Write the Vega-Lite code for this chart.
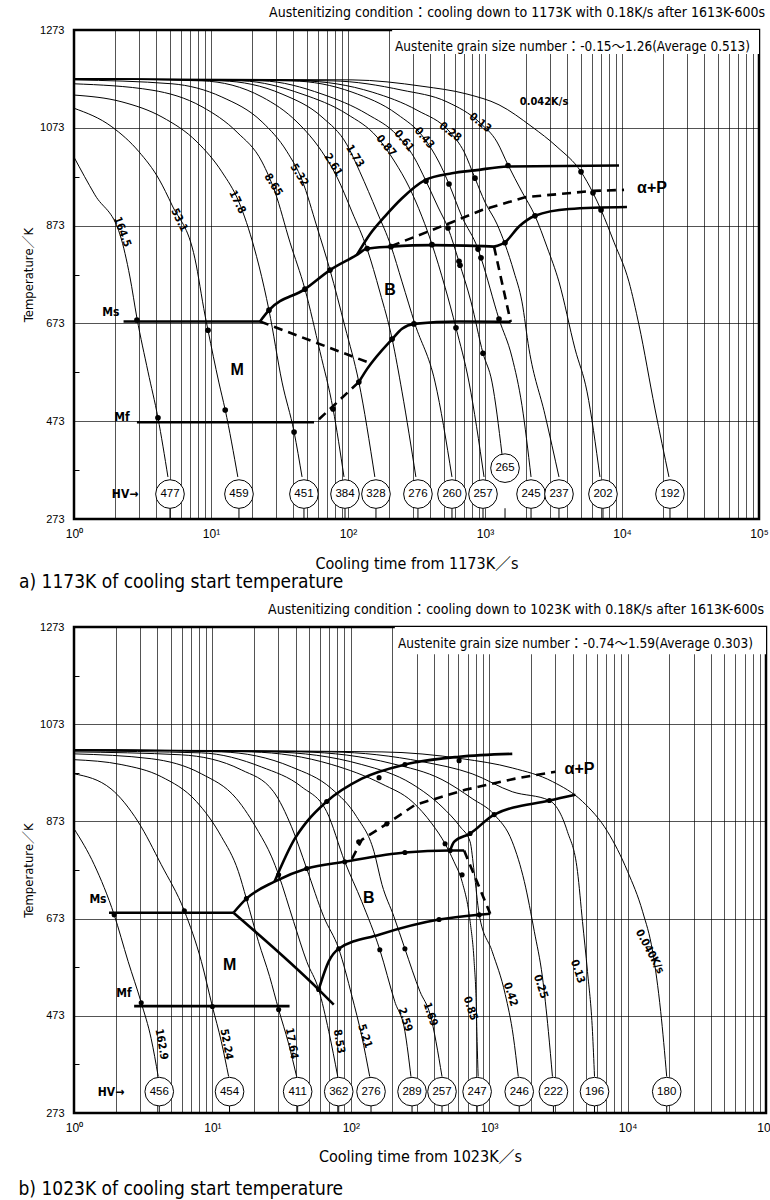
{
"$schema": "https://vega.github.io/schema/vega-lite/v6.json",
"padding": {"left": 17, "top": 4, "right": 0, "bottom": 0},
"background": "white",
"bounds": "flush",
"spacing": 108,
"config": {
  "view": {"stroke": "#000", "strokeWidth": 2.5},
  "font": "DejaVu Sans Condensed, Liberation Sans Narrow, Noto Sans CJK JP, sans-serif",
  "axis": {"domain": false, "labelColor": "#000", "titleColor": "#000", "tickColor": "#000", "gridColor": "#000", "titleFontWeight": "normal", "labelFont": "Liberation Sans, Arial, sans-serif", "titleFont": "DejaVu Sans Condensed, Noto Sans CJK JP, sans-serif"},
  "title": {"font": "DejaVu Sans Condensed, Noto Sans CJK JP, sans-serif", "fontWeight": "normal", "color": "#000", "fontSize": 14, "anchor": "end", "frame": "group"},
  "text": {"color": "#000"}
},
"datasets": {
  "curvesA": [
    {"c":"164.5","t":1,"T":1013},{"c":"164.5","t":1.42,"T":936},{"c":"164.5","t":2.17,"T":854},{"c":"164.5","t":2.56,"T":768},{"c":"164.5","t":2.88,"T":684},{"c":"164.5","t":3.47,"T":574},{"c":"164.5","t":4.1,"T":480},{"c":"164.5","t":4.85,"T":359},
    {"c":"53.1","t":1,"T":1113},{"c":"53.1","t":1.89,"T":1075},{"c":"53.1","t":2.98,"T":1024},{"c":"53.1","t":4.17,"T":968},{"c":"53.1","t":5.19,"T":915},{"c":"53.1","t":7.64,"T":805},{"c":"53.1","t":9.04,"T":690},{"c":"53.1","t":9.51,"T":659},{"c":"53.1","t":11.4,"T":553},{"c":"53.1","t":12.7,"T":496},{"c":"53.1","t":15.7,"T":359},
    {"c":"17.8","t":1,"T":1140},{"c":"17.8","t":2.24,"T":1126},{"c":"17.8","t":4.39,"T":1095},{"c":"17.8","t":7.91,"T":1044},{"c":"17.8","t":12,"T":983},{"c":"17.8","t":16,"T":921},{"c":"17.8","t":20.6,"T":829},{"c":"17.8","t":24.4,"T":747},{"c":"17.8","t":26.5,"T":700},{"c":"17.8","t":33,"T":553},{"c":"17.8","t":40.4,"T":451},{"c":"17.8","t":46.2,"T":359},
    {"c":"8.65","t":1,"T":1163},{"c":"8.65","t":3.71,"T":1150},{"c":"8.65","t":8.6,"T":1116},{"c":"8.65","t":15.5,"T":1064},{"c":"8.65","t":23.6,"T":1003},{"c":"8.65","t":29.3,"T":942},{"c":"8.65","t":37.7,"T":839},{"c":"8.65","t":48.5,"T":743},{"c":"8.65","t":62.5,"T":615},{"c":"8.65","t":77.8,"T":498},{"c":"8.65","t":93.5,"T":359},
    {"c":"5.32","t":1,"T":1171},{"c":"5.32","t":5.19,"T":1163},{"c":"5.32","t":12,"T":1136},{"c":"5.32","t":23.6,"T":1085},{"c":"5.32","t":35.9,"T":1024},{"c":"5.32","t":46.2,"T":966},{"c":"5.32","t":59.4,"T":870},{"c":"5.32","t":73.9,"T":782},{"c":"5.32","t":95.1,"T":666},{"c":"5.32","t":120,"T":553},{"c":"5.32","t":157,"T":359},
    {"c":"2.61","t":1,"T":1173},{"c":"2.61","t":8.6,"T":1169},{"c":"2.61","t":23.6,"T":1136},{"c":"2.61","t":42.4,"T":1085},{"c":"2.61","t":64.6,"T":1024},{"c":"2.61","t":83.2,"T":972},{"c":"2.61","t":107,"T":901},{"c":"2.61","t":138,"T":825},{"c":"2.61","t":171,"T":737},{"c":"2.61","t":210,"T":641},{"c":"2.61","t":248,"T":533},{"c":"2.61","t":313,"T":359},
    {"c":"1.73","t":1,"T":1173},{"c":"1.73","t":12,"T":1169},{"c":"1.73","t":33,"T":1142},{"c":"1.73","t":64.6,"T":1095},{"c":"1.73","t":98.4,"T":1038},{"c":"1.73","t":122,"T":983},{"c":"1.73","t":163,"T":901},{"c":"1.73","t":206,"T":831},{"c":"1.73","t":248,"T":758},{"c":"1.73","t":308,"T":672},{"c":"1.73","t":432,"T":553},{"c":"1.73","t":574,"T":359},
    {"c":"0.87","t":1,"T":1173},{"c":"0.87","t":16.8,"T":1169},{"c":"0.87","t":46.2,"T":1142},{"c":"0.87","t":98.4,"T":1101},{"c":"0.87","t":163,"T":1054},{"c":"0.87","t":220,"T":1003},{"c":"0.87","t":279,"T":952},{"c":"0.87","t":347,"T":891},{"c":"0.87","t":410,"T":835},{"c":"0.87","t":511,"T":747},{"c":"0.87","t":614,"T":664},{"c":"0.87","t":764,"T":553},{"c":"0.87","t":984,"T":359},
    {"c":"0.61","t":1,"T":1173},{"c":"0.61","t":23.6,"T":1169},{"c":"0.61","t":64.6,"T":1142},{"c":"0.61","t":138,"T":1101},{"c":"0.61","t":228,"T":1058},{"c":"0.61","t":303,"T":1013},{"c":"0.61","t":371,"T":964},{"c":"0.61","t":454,"T":911},{"c":"0.61","t":537,"T":868},{"c":"0.61","t":646,"T":799},{"c":"0.61","t":791,"T":717},{"c":"0.61","t":967,"T":612},{"c":"0.61","t":1125,"T":553},{"c":"0.61","t":1330,"T":406},
    {"c":"0.43","t":1,"T":1173},{"c":"0.43","t":39,"T":1169},{"c":"0.43","t":107,"T":1146},{"c":"0.43","t":228,"T":1101},{"c":"0.43","t":359,"T":1052},{"c":"0.43","t":461,"T":1003},{"c":"0.43","t":546,"T":958},{"c":"0.43","t":679,"T":891},{"c":"0.43","t":889,"T":825},{"c":"0.43","t":935,"T":807},{"c":"0.43","t":1265,"T":682},{"c":"0.43","t":1574,"T":604},{"c":"0.43","t":1862,"T":505},{"c":"0.43","t":2168,"T":359},
    {"c":"0.28","t":1,"T":1173},{"c":"0.28","t":46.2,"T":1169},{"c":"0.28","t":150,"T":1146},{"c":"0.28","t":319,"T":1109},{"c":"0.28","t":556,"T":1064},{"c":"0.28","t":703,"T":1024},{"c":"0.28","t":845,"T":970},{"c":"0.28","t":1000,"T":921},{"c":"0.28","t":1224,"T":876},{"c":"0.28","t":1400,"T":835},{"c":"0.28","t":1629,"T":778},{"c":"0.28","t":1862,"T":717},{"c":"0.28","t":2094,"T":621},{"c":"0.28","t":2742,"T":486},{"c":"0.28","t":3467,"T":359},
    {"c":"0.13","t":1,"T":1173},{"c":"0.13","t":76.4,"T":1169},{"c":"0.13","t":248,"T":1150},{"c":"0.13","t":528,"T":1126},{"c":"0.13","t":920,"T":1083},{"c":"0.13","t":1224,"T":1044},{"c":"0.13","t":1472,"T":997},{"c":"0.13","t":1862,"T":942},{"c":"0.13","t":2317,"T":893},{"c":"0.13","t":2838,"T":829},{"c":"0.13","t":3467,"T":758},{"c":"0.13","t":4539,"T":621},{"c":"0.13","t":5559,"T":533},{"c":"0.13","t":6905,"T":359},
    {"c":"0.042","t":1,"T":1173},{"c":"0.042","t":107,"T":1171},{"c":"0.042","t":347,"T":1158},{"c":"0.042","t":739,"T":1142},{"c":"0.042","t":1265,"T":1120},{"c":"0.042","t":2203,"T":1075},{"c":"0.042","t":3357,"T":1034},{"c":"0.042","t":5023,"T":983},{"c":"0.042","t":6141,"T":940},{"c":"0.042","t":7031,"T":905},{"c":"0.042","t":8745,"T":839},{"c":"0.042","t":11240,"T":758},{"c":"0.042","t":13300,"T":670},{"c":"0.042","t":17410,"T":498},{"c":"0.042","t":22020,"T":359}
  ],
  "solidA": [
    {"s":"Ms","t":2.3,"T":677},{"s":"Ms","t":22.8,"T":677},
    {"s":"Bs","t":22.8,"T":677},{"s":"Bs","t":26.5,"T":700},{"s":"Bs","t":48.5,"T":743},{"s":"Bs","t":73.9,"T":782},{"s":"Bs","t":116,"T":813},{"s":"Bs","t":138,"T":826},{"s":"Bs","t":206,"T":830},{"s":"Bs","t":410,"T":833},{"s":"Bs","t":1164,"T":830},
    {"s":"Pf","t":1164,"T":830},{"s":"Pf","t":1400,"T":839},{"s":"Pf","t":1771,"T":871},{"s":"Pf","t":2317,"T":893},{"s":"Pf","t":4102,"T":907},{"s":"Pf","t":10870,"T":911},
    {"s":"As","t":116,"T":813},{"s":"As","t":145,"T":856},{"s":"As","t":186,"T":892},{"s":"As","t":248,"T":929},{"s":"As","t":365,"T":966},{"s":"As","t":574,"T":980},{"s":"As","t":845,"T":986},{"s":"As","t":1472,"T":994},{"s":"As","t":9509,"T":996},
    {"s":"Bf","t":120,"T":553},{"s":"Bf","t":138,"T":580},{"s":"Bf","t":210,"T":641},{"s":"Bf","t":248,"T":662},{"s":"Bf","t":303,"T":672},{"s":"Bf","t":646,"T":677},{"s":"Bf","t":1540,"T":676},
    {"s":"Mf","t":2.88,"T":471},{"s":"Mf","t":56.5,"T":471}
  ],
  "dashA": [
    {"s":"Ps","t":206,"T":831},{"s":"Ps","t":574,"T":880},{"s":"Ps","t":951,"T":905},{"s":"Ps","t":1959,"T":931},{"s":"Ps","t":6141,"T":944},{"s":"Ps","t":10350,"T":946},
    {"s":"MB","t":22.8,"T":677},{"s":"MB","t":138,"T":594},
    {"s":"Bfd","t":61.4,"T":477},{"s":"Bfd","t":120,"T":553},
    {"s":"Vd","t":1164,"T":830},{"s":"Vd","t":1540,"T":676}
  ],
  "dotsA": [
    {"t":2.88,"T":680},{"t":9.51,"T":659},{"t":26.5,"T":700},{"t":48.5,"T":743},{"t":73.9,"T":782},{"t":138,"T":826},{"t":206,"T":830},{"t":410,"T":834},{"t":371,"T":964},{"t":546,"T":958},{"t":845,"T":970},{"t":1472,"T":996},{"t":5023,"T":983},{"t":6141,"T":940},{"t":7031,"T":905},{"t":2317,"T":893},{"t":1400,"T":838},{"t":537,"T":868},{"t":889,"T":825},{"t":935,"T":807},{"t":646,"T":800},{"t":657,"T":792},{"t":1265,"T":682},{"t":614,"T":664},{"t":303,"T":672},{"t":210,"T":641},{"t":120,"T":553},{"t":77.8,"T":498},{"t":40.4,"T":451},{"t":12.7,"T":496},{"t":4.1,"T":480},{"t":967,"T":612}
  ],
  "hvA": [
    {"hv":"477","t":5.02,"T":324},{"hv":"459","t":16,"T":324},{"hv":"451","t":47.7,"T":324},{"hv":"384","t":95.1,"T":324},{"hv":"328","t":160,"T":324},{"hv":"276","t":324,"T":324},{"hv":"260","t":574,"T":324},{"hv":"257","t":967,"T":324},{"hv":"265","t":1400,"T":377},{"hv":"245","t":2168,"T":324},{"hv":"237","t":3467,"T":324},{"hv":"202","t":7263,"T":324},{"hv":"192","t":22400,"T":324}
  ],
  "rateA": [
    {"c":"164.5","t":2.24,"T":860},{"c":"53.1","t":5.84,"T":884},{"c":"17.8","t":15.5,"T":921},{"c":"8.65","t":28.4,"T":956},{"c":"5.32","t":43.9,"T":976},{"c":"2.61","t":77.8,"T":997},{"c":"1.73","t":112,"T":1015},{"c":"0.87","t":189,"T":1036},{"c":"0.61","t":256,"T":1046},{"c":"0.43","t":359,"T":1052},{"c":"0.28","t":556,"T":1064},{"c":"0.13","t":920,"T":1083},{"c":"0.042K/s","t":2697,"T":1126}
  ],
  "regionA": [{"label":"M","t":15.5,"T":578},{"label":"B","t":203,"T":741},{"label":"α+P","t":16560,"T":950}],
  "markA": [{"label":"Ms","t":1.86,"T":697},{"label":"Mf","t":2.24,"T":482},{"label":"HV→","t":2.36,"T":324}],
  "noteA": [{"label":"Austenite grain size number：-0.15～1.26(Average 0.513)","t":86000,"T":1238}],
  "boxA": [{"t":210,"t2":100000,"T":1224,"T2":1273}],
  "capA": [{"label":"a) 1173K of cooling start temperature","t":0.397,"T":144}],

  "curvesB": [
    {"c":"162.9","t":1,"T":858},{"c":"162.9","t":1.4,"T":784},{"c":"162.9","t":1.95,"T":681},{"c":"162.9","t":2.46,"T":585},{"c":"162.9","t":3.06,"T":500},{"c":"162.9","t":3.61,"T":426},{"c":"162.9","t":4.06,"T":348},
    {"c":"52.24","t":1,"T":971},{"c":"52.24","t":1.85,"T":940},{"c":"52.24","t":2.91,"T":872},{"c":"52.24","t":4.27,"T":784},{"c":"52.24","t":6.27,"T":689},{"c":"52.24","t":8.32,"T":585},{"c":"52.24","t":10,"T":492},{"c":"52.24","t":11.6,"T":420},{"c":"52.24","t":13.1,"T":348},
    {"c":"17.64","t":1,"T":1000},{"c":"17.64","t":2.19,"T":990},{"c":"17.64","t":4.27,"T":965},{"c":"17.64","t":7.66,"T":914},{"c":"17.64","t":11.6,"T":842},{"c":"17.64","t":15.4,"T":770},{"c":"17.64","t":17.6,"T":714},{"c":"17.64","t":21.5,"T":626},{"c":"17.64","t":25.9,"T":554},{"c":"17.64","t":30.1,"T":486},{"c":"17.64","t":35.5,"T":416},{"c":"17.64","t":40.6,"T":348},
    {"c":"8.53","t":1,"T":1012},{"c":"8.53","t":3.61,"T":1002},{"c":"8.53","t":8.32,"T":971},{"c":"8.53","t":14.9,"T":920},{"c":"8.53","t":21.5,"T":852},{"c":"8.53","t":26.8,"T":800},{"c":"8.53","t":30.1,"T":763},{"c":"8.53","t":38.6,"T":667},{"c":"8.53","t":48,"T":585},{"c":"8.53","t":58.6,"T":527},{"c":"8.53","t":69.3,"T":441},{"c":"8.53","t":80.5,"T":348},
    {"c":"5.21","t":1,"T":1016},{"c":"5.21","t":5.96,"T":1010},{"c":"5.21","t":16.2,"T":979},{"c":"5.21","t":27.7,"T":934},{"c":"5.21","t":37.3,"T":862},{"c":"5.21","t":48,"T":776},{"c":"5.21","t":63.7,"T":677},{"c":"5.21","t":81.8,"T":611},{"c":"5.21","t":102,"T":513},{"c":"5.21","t":120,"T":431},{"c":"5.21","t":137,"T":348},
    {"c":"2.59","t":1,"T":1018},{"c":"2.59","t":8.32,"T":1014},{"c":"2.59","t":22.6,"T":985},{"c":"2.59","t":44.2,"T":944},{"c":"2.59","t":67,"T":893},{"c":"2.59","t":90.5,"T":790},{"c":"2.59","t":120,"T":708},{"c":"2.59","t":162,"T":609},{"c":"2.59","t":208,"T":502},{"c":"2.59","t":246,"T":441},{"c":"2.59","t":272,"T":348},
    {"c":"1.69","t":1,"T":1020},{"c":"1.69","t":11.6,"T":1016},{"c":"1.69","t":37.3,"T":985},{"c":"1.69","t":72.8,"T":940},{"c":"1.69","t":110,"T":883},{"c":"1.69","t":147,"T":811},{"c":"1.69","t":168,"T":743},{"c":"1.69","t":205,"T":677},{"c":"1.69","t":246,"T":611},{"c":"1.69","t":316,"T":523},{"c":"1.69","t":374,"T":476},{"c":"1.69","t":456,"T":348},
    {"c":"0.85","t":1,"T":1020},{"c":"0.85","t":19.2,"T":1016},{"c":"0.85","t":72.8,"T":990},{"c":"0.85","t":168,"T":950},{"c":"0.85","t":277,"T":914},{"c":"0.85","t":386,"T":868},{"c":"0.85","t":480,"T":827},{"c":"0.85","t":557,"T":790},{"c":"0.85","t":637,"T":749},{"c":"0.85","t":728,"T":667},{"c":"0.85","t":778,"T":585},{"c":"0.85","t":805,"T":502},{"c":"0.85","t":818,"T":420},{"c":"0.85","t":832,"T":348},
    {"c":"0.42","t":1,"T":1020},{"c":"0.42","t":26.8,"T":1016},{"c":"0.42","t":120,"T":990},{"c":"0.42","t":277,"T":950},{"c":"0.42","t":456,"T":903},{"c":"0.42","t":617,"T":862},{"c":"0.42","t":728,"T":831},{"c":"0.42","t":778,"T":770},{"c":"0.42","t":847,"T":681},{"c":"0.42","t":1052,"T":605},{"c":"0.42","t":1306,"T":517},{"c":"0.42","t":1493,"T":431},{"c":"0.42","t":1622,"T":348},
    {"c":"0.25","t":1,"T":1020},{"c":"0.25","t":44.2,"T":1016},{"c":"0.25","t":198,"T":992},{"c":"0.25","t":456,"T":959},{"c":"0.25","t":753,"T":920},{"c":"0.25","t":1087,"T":887},{"c":"0.25","t":1468,"T":831},{"c":"0.25","t":1795,"T":749},{"c":"0.25","t":2120,"T":646},{"c":"0.25","t":2421,"T":554},{"c":"0.25","t":2677,"T":441},{"c":"0.25","t":2864,"T":348},
    {"c":"0.13","t":1,"T":1020},{"c":"0.13","t":72.8,"T":1016},{"c":"0.13","t":327,"T":996},{"c":"0.13","t":753,"T":971},{"c":"0.13","t":1468,"T":934},{"c":"0.13","t":2723,"T":916},{"c":"0.13","t":3675,"T":852},{"c":"0.13","t":4345,"T":770},{"c":"0.13","t":4722,"T":667},{"c":"0.13","t":5131,"T":564},{"c":"0.13","t":5574,"T":441},{"c":"0.13","t":5766,"T":348},
    {"c":"0.040","t":1,"T":1020},{"c":"0.040","t":168,"T":1016},{"c":"0.040","t":637,"T":1002},{"c":"0.040","t":1468,"T":983},{"c":"0.040","t":2864,"T":955},{"c":"0.040","t":4722,"T":914},{"c":"0.040","t":7161,"T":852},{"c":"0.040","t":10000,"T":770},{"c":"0.040","t":12850,"T":687},{"c":"0.040","t":15170,"T":605},{"c":"0.040","t":17340,"T":482},{"c":"0.040","t":19170,"T":348}
  ],
  "solidB": [
    {"s":"Ms","t":1.79,"T":685},{"s":"Ms","t":14.2,"T":685},
    {"s":"Bs","t":14.2,"T":685},{"s":"Bs","t":17.6,"T":714},{"s":"Bs","t":28.1,"T":749},{"s":"Bs","t":48,"T":776},{"s":"Bs","t":90.5,"T":790},{"s":"Bs","t":246,"T":809},{"s":"Bs","t":522,"T":813},{"s":"Bs","t":659,"T":813},
    {"s":"As","t":28.1,"T":749},{"s":"As","t":39.3,"T":837},{"s":"As","t":48,"T":872},{"s":"As","t":67,"T":914},{"s":"As","t":120,"T":961},{"s":"As","t":246,"T":990},{"s":"As","t":606,"T":1006},{"s":"As","t":1468,"T":1012},
    {"s":"Pf","t":522,"T":813},{"s":"Pf","t":557,"T":831},{"s":"Pf","t":728,"T":848},{"s":"Pf","t":1087,"T":887},{"s":"Pf","t":2723,"T":916},{"s":"Pf","t":4199,"T":928},
    {"s":"MB","t":14.2,"T":685},{"s":"MB","t":58.6,"T":527},{"s":"MB","t":75.3,"T":496},
    {"s":"Bf","t":58.6,"T":527},{"s":"Bf","t":69.3,"T":585},{"s":"Bf","t":81.8,"T":611},{"s":"Bf","t":160,"T":640},{"s":"Bf","t":434,"T":671},{"s":"Bf","t":847,"T":681},{"s":"Bf","t":1017,"T":683},
    {"s":"Mf","t":2.72,"T":493},{"s":"Mf","t":36.1,"T":493}
  ],
  "dashB": [
    {"s":"Ps","t":102,"T":796},{"s":"Ps","t":120,"T":835},{"s":"Ps","t":182,"T":868},{"s":"Ps","t":291,"T":907},{"s":"Ps","t":670,"T":938},{"s":"Ps","t":1542,"T":961},{"s":"Ps","t":3009,"T":975},
    {"s":"Vd","t":659,"T":813},{"s":"Vd","t":1017,"T":683}
  ],
  "dotsB": [
    {"t":1.95,"T":681},{"t":6.27,"T":689},{"t":3.06,"T":500},{"t":10,"T":492},{"t":30.1,"T":486},{"t":17.6,"T":714},{"t":30.1,"T":763},{"t":48,"T":776},{"t":90.5,"T":790},{"t":246,"T":809},{"t":522,"T":813},{"t":67,"T":914},{"t":160,"T":963},{"t":246,"T":990},{"t":606,"T":998},{"t":114,"T":831},{"t":182,"T":868},{"t":480,"T":827},{"t":637,"T":763},{"t":728,"T":848},{"t":1087,"T":887},{"t":2723,"T":916},{"t":58.6,"T":527},{"t":81.8,"T":611},{"t":162,"T":609},{"t":246,"T":611},{"t":434,"T":671},{"t":847,"T":681}
  ],
  "hvB": [
    {"hv":"456","t":4.13,"T":317},{"hv":"454","t":13.3,"T":317},{"hv":"411","t":41.3,"T":317},{"hv":"362","t":81.8,"T":317},{"hv":"276","t":140,"T":317},{"hv":"289","t":277,"T":317},{"hv":"257","t":456,"T":317},{"hv":"247","t":818,"T":317},{"hv":"246","t":1648,"T":317},{"hv":"222","t":2911,"T":317},{"hv":"196","t":5766,"T":317},{"hv":"180","t":19170,"T":317}
  ],
  "rateB": [
    {"c":"162.9","t":4.27,"T":414},{"c":"52.24","t":12.6,"T":414},{"c":"17.64","t":37.3,"T":416},{"c":"8.53","t":81.8,"T":420},{"c":"5.21","t":126,"T":431},{"c":"2.59","t":246,"T":465},{"c":"1.69","t":374,"T":476},{"c":"0.85","t":728,"T":488},{"c":"0.42","t":1419,"T":517},{"c":"0.25","t":2343,"T":533},{"c":"0.13","t":4345,"T":564},{"c":"0.040K/s","t":14420,"T":605}
  ],
  "regionB": [{"label":"M","t":13.3,"T":578},{"label":"B","t":135,"T":716},{"label":"α+P","t":4491,"T":981}],
  "markB": [{"label":"Ms","t":1.49,"T":714},{"label":"Mf","t":2.3,"T":519},{"label":"HV→","t":1.85,"T":317}],
  "noteB": [{"label":"Austenite grain size number：-0.74～1.59(Average 0.303)","t":80500,"T":1238}],
  "boxB": [{"t":208,"t2":100000,"T":1217,"T2":1273}],
  "capB": [{"label":"b) 1023K of cooling start temperature","t":0.397,"T":117}]
},
"vconcat": [
  {
    "width": 685, "height": 489,
    "title": {"text": "Austenitizing condition：cooling down to 1173K with 0.18K/s after 1613K-600s", "dx": 6, "offset": 4},
    "encoding": {
      "x": {"field": "t", "type": "quantitative", "scale": {"type": "log", "domain": [1, 100000]},
        "axis": {"title": "Cooling time from 1173K／s", "values": [1,2,3,4,5,6,7,8,9,10,20,30,40,50,60,70,80,90,100,200,300,400,500,600,700,800,900,1000,2000,3000,4000,5000,6000,7000,8000,9000,10000,20000,30000,40000,50000,60000,70000,80000,90000,100000],
          "labelExpr": "datum.value==1?'10⁰':datum.value==10?'10¹':datum.value==100?'10²':datum.value==1000?'10³':datum.value==10000?'10⁴':datum.value==100000?'10⁵':''",
          "ticks": false, "labelPadding": 9, "labelFontSize": 12, "labelOverlap": false, "labelFlush": false, "titleFontSize": 16, "titlePadding": 16, "gridWidth": 0.8, "gridOpacity": 0.85}},
      "y": {"field": "T", "type": "quantitative", "scale": {"domain": [273, 1273], "zero": false, "nice": false},
        "axis": {"title": "Temperature／K", "values": [273,373,473,573,673,773,873,973,1073,1173,1273], "format": "d",
          "labelExpr": "(datum.value-273)%200==0 ? datum.label : ''",
          "gridOpacity": {"condition": {"test": "(datum.value-273)%200!=0", "value": 0}, "value": 0.85},
          "tickOpacity": {"condition": {"test": "(datum.value-273)%200!=0", "value": 1}, "value": 0},
          "tickSize": -5, "gridWidth": 0.8, "labelPadding": 15, "labelFontSize": 11, "labelFlush": false, "titleFontSize": 13, "titlePadding": 4}}
    },
    "layer": [
      {"data": {"name": "boxA"}, "mark": {"type": "rect", "fill": "white"}, "encoding": {"x2": {"field": "t2"}, "y2": {"field": "T2"}}},
      {"data": {"name": "curvesA"}, "mark": {"type": "line", "stroke": "#000", "strokeWidth": 1, "interpolate": "monotone"}, "encoding": {"detail": {"field": "c"}}},
      {"data": {"name": "solidA"}, "mark": {"type": "line", "stroke": "#000", "strokeWidth": 2.6, "interpolate": "monotone"}, "encoding": {"detail": {"field": "s"}}},
      {"data": {"name": "dashA"}, "mark": {"type": "line", "stroke": "#000", "strokeWidth": 2.6, "strokeDash": [9, 6]}, "encoding": {"detail": {"field": "s"}}},
      {"data": {"name": "dotsA"}, "mark": {"type": "point", "filled": true, "color": "#000", "size": 32, "opacity": 1}},
      {"data": {"name": "hvA"}, "mark": {"type": "rule", "stroke": "#000", "strokeWidth": 1}, "encoding": {"y": {"datum": 273}, "y2": {"datum": 295}}},
      {"data": {"name": "hvA"}, "mark": {"type": "point", "shape": "circle", "filled": true, "fill": "white", "stroke": "#000", "strokeWidth": 1, "size": 820, "opacity": 1}},
      {"data": {"name": "hvA"}, "mark": {"type": "text", "fontSize": 11.5, "font": "Liberation Sans, Arial, sans-serif"}, "encoding": {"text": {"field": "hv"}}},
      {"data": {"name": "rateA"}, "transform": [{"filter": {"field": "c", "oneOf": ["164.5"]}}], "mark": {"type": "text", "angle": 70, "fontSize": 11, "fontWeight": "bold"}, "encoding": {"text": {"field": "c"}}},
      {"data": {"name": "rateA"}, "transform": [{"filter": {"field": "c", "oneOf": ["53.1", "17.8"]}}], "mark": {"type": "text", "angle": 64, "fontSize": 11, "fontWeight": "bold"}, "encoding": {"text": {"field": "c"}}},
      {"data": {"name": "rateA"}, "transform": [{"filter": {"field": "c", "oneOf": ["8.65", "5.32", "2.61", "1.73"]}}], "mark": {"type": "text", "angle": 58, "fontSize": 11, "fontWeight": "bold"}, "encoding": {"text": {"field": "c"}}},
      {"data": {"name": "rateA"}, "transform": [{"filter": {"field": "c", "oneOf": ["0.87", "0.61", "0.43"]}}], "mark": {"type": "text", "angle": 50, "fontSize": 11, "fontWeight": "bold"}, "encoding": {"text": {"field": "c"}}},
      {"data": {"name": "rateA"}, "transform": [{"filter": {"field": "c", "oneOf": ["0.28", "0.13"]}}], "mark": {"type": "text", "angle": 38, "fontSize": 11, "fontWeight": "bold"}, "encoding": {"text": {"field": "c"}}},
      {"data": {"name": "rateA"}, "transform": [{"filter": {"field": "c", "oneOf": ["0.042K/s"]}}], "mark": {"type": "text", "angle": 0, "fontSize": 11, "fontWeight": "bold"}, "encoding": {"text": {"field": "c"}}},
      {"data": {"name": "regionA"}, "mark": {"type": "text", "fontSize": 16, "fontWeight": "bold", "font": "Liberation Sans, Arial, sans-serif"}, "encoding": {"text": {"field": "label"}}},
      {"data": {"name": "markA"}, "mark": {"type": "text", "fontSize": 12, "fontWeight": "bold"}, "encoding": {"text": {"field": "label"}}},
      {"data": {"name": "noteA"}, "mark": {"type": "text", "align": "right", "fontSize": 13.5}, "encoding": {"text": {"field": "label"}}},
      {"data": {"name": "capA"}, "mark": {"type": "text", "align": "left", "fontSize": 19}, "encoding": {"text": {"field": "label"}}}
    ]
  },
  {
    "width": 692, "height": 486,
    "title": {"text": "Austenitizing condition：cooling down to 1023K with 0.18K/s after 1613K-600s", "dx": -2, "offset": 4},
    "encoding": {
      "x": {"field": "t", "type": "quantitative", "scale": {"type": "log", "domain": [1, 100000]},
        "axis": {"title": "Cooling time from 1023K／s", "values": [1,2,3,4,5,6,7,8,9,10,20,30,40,50,60,70,80,90,100,200,300,400,500,600,700,800,900,1000,2000,3000,4000,5000,6000,7000,8000,9000,10000,20000,30000,40000,50000,60000,70000,80000,90000,100000],
          "labelExpr": "datum.value==1?'10⁰':datum.value==10?'10¹':datum.value==100?'10²':datum.value==1000?'10³':datum.value==10000?'10⁴':datum.value==100000?'10⁵':''",
          "ticks": false, "labelPadding": 9, "labelFontSize": 12, "labelOverlap": false, "labelFlush": false, "titleFontSize": 16, "titlePadding": 15, "gridWidth": 0.8, "gridOpacity": 0.85}},
      "y": {"field": "T", "type": "quantitative", "scale": {"domain": [273, 1273], "zero": false, "nice": false},
        "axis": {"title": "Temperature／K", "values": [273,373,473,573,673,773,873,973,1073,1173,1273], "format": "d",
          "labelExpr": "(datum.value-273)%200==0 ? datum.label : ''",
          "gridOpacity": {"condition": {"test": "(datum.value-273)%200!=0", "value": 0}, "value": 0.85},
          "tickOpacity": {"condition": {"test": "(datum.value-273)%200!=0", "value": 1}, "value": 0},
          "tickSize": -5, "gridWidth": 0.8, "labelPadding": 15, "labelFontSize": 11, "labelFlush": false, "titleFontSize": 13, "titlePadding": 4}}
    },
    "layer": [
      {"data": {"name": "boxB"}, "mark": {"type": "rect", "fill": "white"}, "encoding": {"x2": {"field": "t2"}, "y2": {"field": "T2"}}},
      {"data": {"name": "curvesB"}, "mark": {"type": "line", "stroke": "#000", "strokeWidth": 1, "interpolate": "monotone"}, "encoding": {"detail": {"field": "c"}}},
      {"data": {"name": "solidB"}, "mark": {"type": "line", "stroke": "#000", "strokeWidth": 2.6, "interpolate": "monotone"}, "encoding": {"detail": {"field": "s"}}},
      {"data": {"name": "dashB"}, "mark": {"type": "line", "stroke": "#000", "strokeWidth": 2.6, "strokeDash": [9, 6]}, "encoding": {"detail": {"field": "s"}}},
      {"data": {"name": "dotsB"}, "mark": {"type": "point", "filled": true, "color": "#000", "size": 26, "opacity": 1}},
      {"data": {"name": "hvB"}, "mark": {"type": "rule", "stroke": "#000", "strokeWidth": 1}, "encoding": {"y": {"datum": 273}, "y2": {"datum": 288}}},
      {"data": {"name": "hvB"}, "mark": {"type": "point", "shape": "circle", "filled": true, "fill": "white", "stroke": "#000", "strokeWidth": 1, "size": 820, "opacity": 1}},
      {"data": {"name": "hvB"}, "mark": {"type": "text", "fontSize": 11.5, "font": "Liberation Sans, Arial, sans-serif"}, "encoding": {"text": {"field": "hv"}}},
      {"data": {"name": "rateB"}, "transform": [{"filter": {"field": "c", "oneOf": ["162.9", "52.24", "17.64", "8.53"]}}], "mark": {"type": "text", "angle": 80, "fontSize": 11, "fontWeight": "bold"}, "encoding": {"text": {"field": "c"}}},
      {"data": {"name": "rateB"}, "transform": [{"filter": {"field": "c", "oneOf": ["5.21", "2.59", "1.69", "0.85", "0.42", "0.25", "0.13"]}}], "mark": {"type": "text", "angle": 72, "fontSize": 11, "fontWeight": "bold"}, "encoding": {"text": {"field": "c"}}},
      {"data": {"name": "rateB"}, "transform": [{"filter": {"field": "c", "oneOf": ["0.040K/s"]}}], "mark": {"type": "text", "angle": 62, "fontSize": 11, "fontWeight": "bold"}, "encoding": {"text": {"field": "c"}}},
      {"data": {"name": "regionB"}, "mark": {"type": "text", "fontSize": 16, "fontWeight": "bold", "font": "Liberation Sans, Arial, sans-serif"}, "encoding": {"text": {"field": "label"}}},
      {"data": {"name": "markB"}, "mark": {"type": "text", "fontSize": 12, "fontWeight": "bold"}, "encoding": {"text": {"field": "label"}}},
      {"data": {"name": "noteB"}, "mark": {"type": "text", "align": "right", "fontSize": 13.5}, "encoding": {"text": {"field": "label"}}},
      {"data": {"name": "capB"}, "mark": {"type": "text", "align": "left", "fontSize": 19}, "encoding": {"text": {"field": "label"}}}
    ]
  }
]
}
